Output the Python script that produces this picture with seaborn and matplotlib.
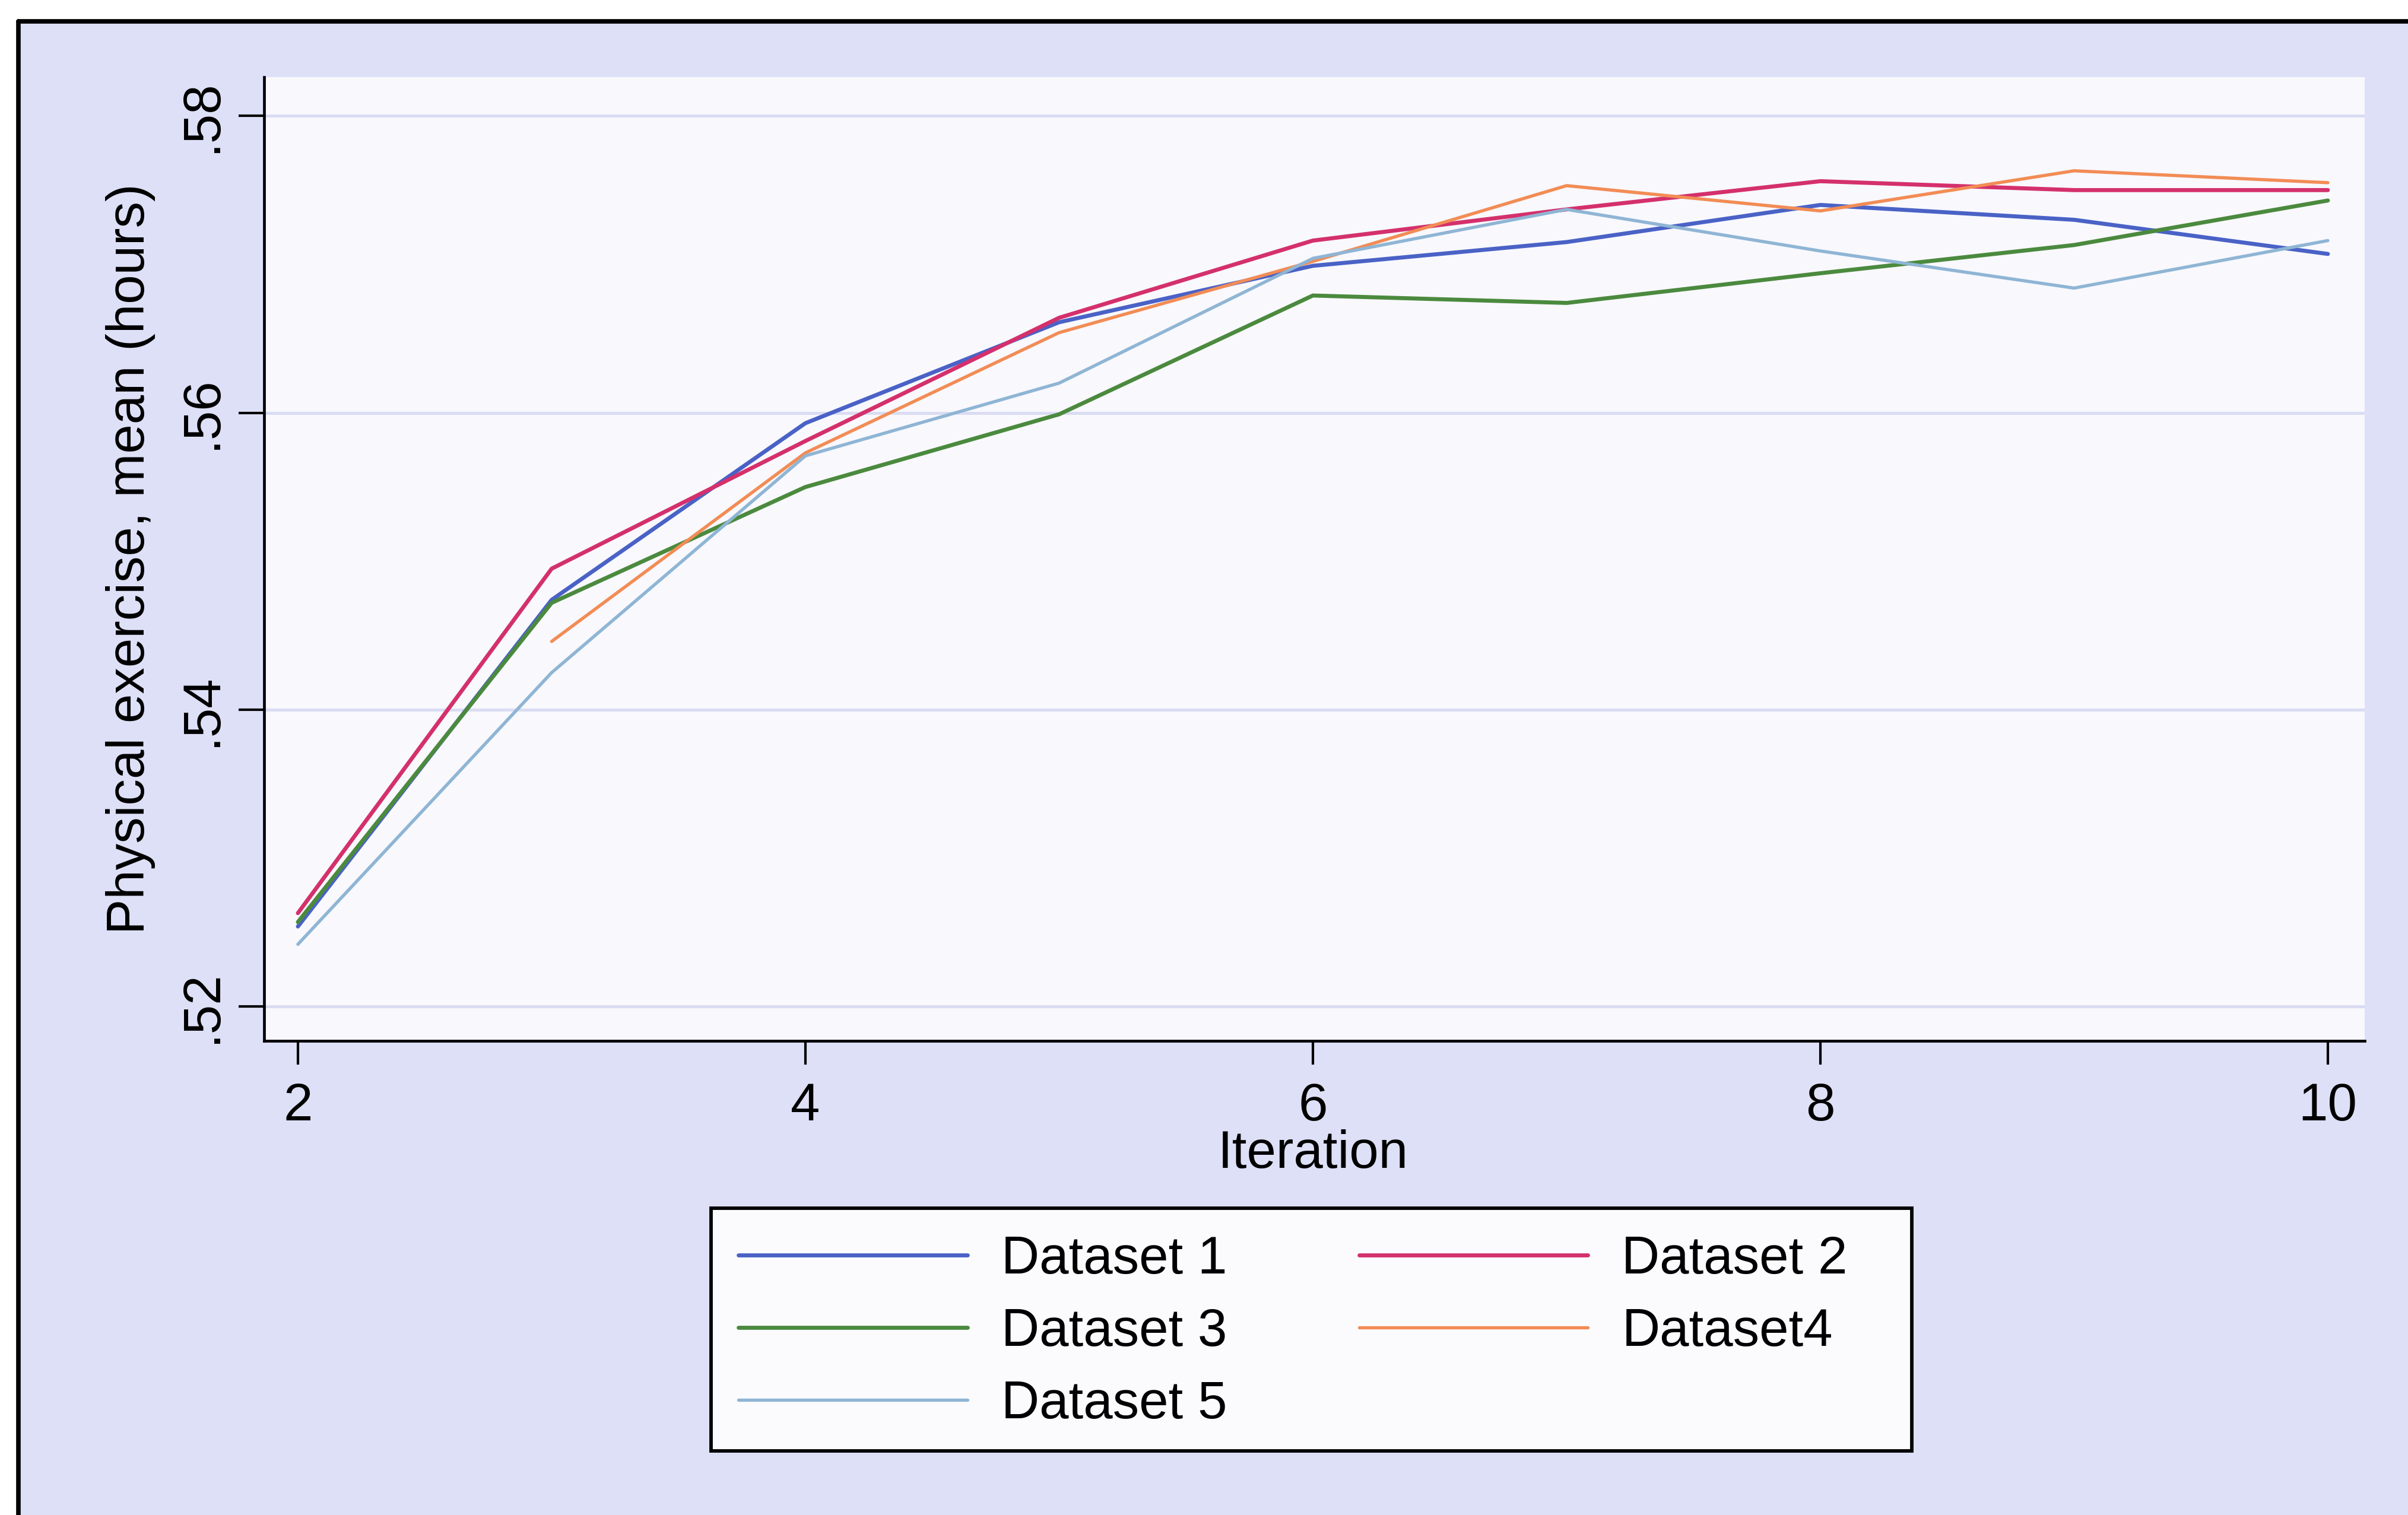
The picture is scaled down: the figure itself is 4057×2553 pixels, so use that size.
import numpy as np
import pandas as pd
import matplotlib
matplotlib.use("Agg")
import matplotlib.pyplot as plt
from matplotlib.lines import Line2D
from matplotlib.patches import Rectangle
import seaborn as sns

# ---- data -------------------------------------------------------------
iterations = [2, 3, 4, 5, 6, 7, 8, 9, 10]
dataset_1 = [0.5254, 0.5474, 0.5593, 0.5661, 0.5699, 0.5715, 0.5740, 0.5730, 0.5707]
dataset_2 = [0.5263, 0.5495, 0.5581, 0.5664, 0.5716, 0.5737, 0.5756, 0.5750, 0.5750]
dataset_3 = [0.5257, 0.5472, 0.5550, 0.5599, 0.5679, 0.5674, 0.5694, 0.5713, 0.5743]
dataset_4 = [np.nan, 0.5446, 0.5573, 0.5654, 0.5702, 0.5753, 0.5736, 0.5763, 0.5755]
dataset_5 = [0.5242, 0.5425, 0.5571, 0.5620, 0.5704, 0.5737, 0.5709, 0.5684, 0.5716]

series_names = ["Dataset 1", "Dataset 2", "Dataset 3", "Dataset4", "Dataset 5"]
series_values = [dataset_1, dataset_2, dataset_3, dataset_4, dataset_5]
series_colors = ["#4a62c6", "#d4306c", "#4b8a3e", "#f28c55", "#8fb5d4"]
series_widths = [4.9, 4.9, 4.9, 3.9, 3.9]

y_ticks = [0.52, 0.54, 0.56, 0.58]
y_tick_labels = [".52", ".54", ".56", ".58"]
x_ticks = [2, 4, 6, 8, 10]

frame = pd.DataFrame({
    "Iteration": np.tile(iterations, len(series_names)),
    "value": np.concatenate(series_values),
    "series": np.repeat(series_names, len(iterations)),
})

# ---- style ------------------------------------------------------------
sns.set_style("white")
plt.rcParams["font.family"] = ["Liberation Sans", "DejaVu Sans"]
plt.rcParams["text.color"] = "black"
plt.rcParams["xtick.color"] = "black"
plt.rcParams["ytick.color"] = "black"
plt.rcParams["axes.labelcolor"] = "black"
FS = 64
bg = "#dde0f6"

fig = plt.figure(figsize=(40.57, 25.53), dpi=100, facecolor="white")

# shaded graph region with its outer frame on top and left
fig.patches.append(Rectangle((12 / 1568, 0), 1, 1 - 14 / 987, transform=fig.transFigure,
                             facecolor=bg, edgecolor="none", zorder=-3))
fig.lines.append(Line2D([12 / 1568, 1], [1 - 14 / 987] * 2, transform=fig.transFigure,
                        color="black", lw=5.5, zorder=-2))
fig.lines.append(Line2D([12 / 1568] * 2, [0, 1 - 14 / 987], transform=fig.transFigure,
                        color="black", lw=5.5, zorder=-2))

ax = fig.add_axes([0.1097, 0.313, 0.982 - 0.1097, 0.949 - 0.313])
ax.set_facecolor("#f8f8fd")

for name, color, lw in zip(series_names, series_colors, series_widths):
    sns.lineplot(data=frame[frame["series"] == name], x="Iteration", y="value",
                 color=color, linewidth=lw, ax=ax, legend=False, zorder=3)

ax.set_xlim(1.867, 10.145)
ax.set_ylim(0.5177, 0.5826)
ax.set_xticks(x_ticks)
ax.set_xticklabels([str(t) for t in x_ticks], fontsize=FS)
ax.set_yticks(y_ticks)
ax.set_yticklabels(y_tick_labels, fontsize=FS, rotation=90, va="center")
ax.grid(axis="y", color="#d9dcf2", linewidth=3.5, zorder=1)
ax.grid(axis="x", visible=False)
ax.set_xlabel("")
ax.set_ylabel("")

for side in ["top", "right"]:
    ax.spines[side].set_visible(False)
for side in ["left", "bottom"]:
    ax.spines[side].set_color("black")
    ax.spines[side].set_linewidth(3.4)
ax.tick_params(axis="both", which="major", direction="out", width=3.0,
               color="black", labelcolor="black", left=True, bottom=True)
ax.tick_params(axis="x", length=29, pad=21)
ax.tick_params(axis="y", length=31, pad=14)

fig.text(0.0542, 0.631, "Physical exercise, mean (hours)", rotation=90,
         ha="center", va="center", fontsize=FS, color="black")
fig.text(0.5453, 1 - 761 / 987, "Iteration", ha="center", va="baseline",
         fontsize=FS, color="black")

# legend box
fig.patches.append(Rectangle((0.2953, 0.0423), 0.4986, 0.1602, transform=fig.transFigure,
                             facecolor="#fbfbfe", edgecolor="black", lw=4.2, zorder=2))
handles = {n: Line2D([0], [0], color=c, lw=lw) for n, c, lw in
           zip(series_names, series_colors, series_widths)}
order = ["Dataset 1", "Dataset 3", "Dataset 5", "Dataset 2", "Dataset4"]
fig.legend([handles[n] for n in order], order, loc="upper left",
           bbox_to_anchor=(0.3067, 0.1847), bbox_transform=fig.transFigure,
           ncol=2, frameon=False, fontsize=FS, borderpad=0, borderaxespad=0,
           handlelength=4.34, handletextpad=0.64, columnspacing=2.5,
           labelspacing=0.425, labelcolor="black")

fig.savefig("out.png", dpi=100, facecolor=fig.get_facecolor())
